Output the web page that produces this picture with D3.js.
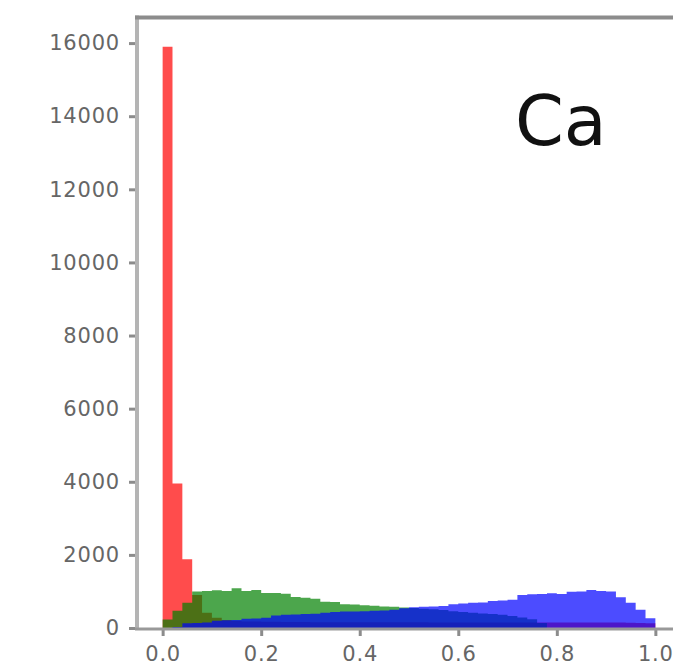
<!DOCTYPE html>
<html>
<head>
<meta charset="utf-8">
<script src="https://cdn.jsdelivr.net/npm/d3@7/dist/d3.min.js"></script>
<style>
  html, body { margin: 0; padding: 0; background: #ffffff; }
  svg { display: block; }
  .tick-label { font-family: "DejaVu Sans", sans-serif; font-size: 21px; fill: #666666; letter-spacing: 0.8px; }
  .panel-label { font-family: "DejaVu Sans", sans-serif; font-size: 70px; fill: #111; }
</style>
</head>
<body>
<svg id="chart" width="673" height="665"></svg>
<script>
// Histogram bins: 50 bins of width 0.02 spanning the fraction range 0..1
const binEdges = [0.00,0.02,0.04,0.06,0.08,0.10,0.12,0.14,0.16,0.18,
                  0.20,0.22,0.24,0.26,0.28,0.30,0.32,0.34,0.36,0.38,
                  0.40,0.42,0.44,0.46,0.48,0.50,0.52,0.54,0.56,0.58,
                  0.60,0.62,0.64,0.66,0.68,0.70,0.72,0.74,0.76,0.78,
                  0.80,0.82,0.84,0.86,0.88,0.90,0.92,0.94,0.96,0.98,1.00];

// Counts per bin for each class
const redCounts = [15900, 3950, 1880, 900, 420, 280, 220, 190, 180, 175,
                   170, 170, 165, 165, 165, 160, 160, 160, 160, 160,
                   160, 155, 155, 155, 155, 155, 155, 150, 150, 150,
                   150, 150, 150, 150, 150, 150, 150, 150, 150, 150,
                   150, 150, 150, 150, 150, 150, 150, 145, 140, 130];

const greenCounts = [230, 475, 690, 1000, 1010, 1030, 1010, 1090, 1010, 1040,
                     960, 960, 940, 850, 830, 800, 720, 710, 650, 640,
                     620, 610, 590, 580, 560, 550, 530, 510, 490, 460,
                     440, 420, 400, 380, 360, 330, 290, 240, 140, 0,
                     0, 0, 0, 0, 0, 0, 0, 0, 0, 0];

const blueCounts = [0, 30, 130, 140, 150, 200, 210, 220, 250, 260,
                    280, 340, 360, 370, 380, 390, 420, 440, 450, 450,
                    460, 470, 480, 500, 540, 570, 580, 590, 600, 650,
                    670, 690, 700, 740, 750, 770, 900, 920, 930, 950,
                    930, 990, 1000, 1040, 1010, 1000, 840, 690, 500, 270];

const xTicks = [0.0, 0.2, 0.4, 0.6, 0.8, 1.0];
const xTickLabels = ["0.0", "0.2", "0.4", "0.6", "0.8", "1.0"];
const yTicks = [0, 2000, 4000, 6000, 8000, 10000, 12000, 14000, 16000];
const yTickLabels = ["0", "2000", "4000", "6000", "8000", "10000", "12000", "14000", "16000"];
const panelLabel = "Ca";

const series = [
  { counts: redCounts,   color: "rgb(255,0,0)" },
  { counts: greenCounts, color: "rgb(0,128,0)" },
  { counts: blueCounts,  color: "rgb(0,0,255)" }
];

// Axes box
const axLeft = 138, axRight = 680, axTop = 17.5, axBottom = 628;

const svg = d3.select("#chart");

const x = d3.scaleLinear().domain([-0.05, 1.05]).range([axLeft, axRight]);
const y = d3.scaleLinear().domain([0, 16700]).range([axBottom, axTop]);

// Step-filled histograms, drawn in order so later classes overlay earlier ones
const area = d3.area()
  .curve(d3.curveStepAfter)
  .x(d => x(d.x))
  .y0(y(0))
  .y1(d => y(d.v));

series.forEach(s => {
  const pts = binEdges.map((e, i) => ({ x: e, v: i < s.counts.length ? s.counts[i] : s.counts[s.counts.length - 1] }));
  svg.append("path")
    .attr("d", area(pts))
    .attr("fill", s.color)
    .attr("fill-opacity", 0.7)
    .attr("stroke", "none");
});

// Axes
const spineColor = "#8c8c8c";

const xAxis = d3.axisBottom(x)
  .tickValues(xTicks)
  .tickFormat((d, i) => xTickLabels[i])
  .tickSize(8)
  .tickPadding(10);

const gx = svg.append("g").attr("transform", `translate(0,${axBottom})`).call(xAxis);
gx.select(".domain").remove();
gx.selectAll(".tick line").attr("stroke", spineColor).attr("stroke-width", 3);
gx.selectAll(".tick text").attr("class", "tick-label").attr("dy", "0.71em");

const yAxis = d3.axisLeft(y)
  .tickValues(yTicks)
  .tickFormat((d, i) => yTickLabels[i])
  .tickSize(8)
  .tickPadding(9);

const gy = svg.append("g").attr("transform", `translate(${axLeft - 1},0)`).call(yAxis);
gy.select(".domain").remove();
gy.selectAll(".tick line").attr("stroke", spineColor).attr("stroke-width", 3);
gy.selectAll(".tick text").attr("class", "tick-label");

// Spines
svg.append("line").attr("x1", axLeft - 1).attr("x2", axLeft - 1).attr("y1", axTop - 2).attr("y2", axBottom + 1.5)
  .attr("stroke", "#b4b4b4").attr("stroke-width", 4);
svg.append("line").attr("x1", axLeft - 3).attr("x2", axRight).attr("y1", axTop).attr("y2", axTop)
  .attr("stroke", spineColor).attr("stroke-width", 4);
svg.append("line").attr("x1", axLeft - 3).attr("x2", axRight).attr("y1", axBottom + 1).attr("y2", axBottom + 1)
  .attr("stroke", "#999").attr("stroke-width", 3);

// Panel label
svg.append("text")
  .attr("class", "panel-label")
  .attr("x", x(0.715))
  .attr("y", 145)
  .text(panelLabel);
</script>
</body>
</html>
